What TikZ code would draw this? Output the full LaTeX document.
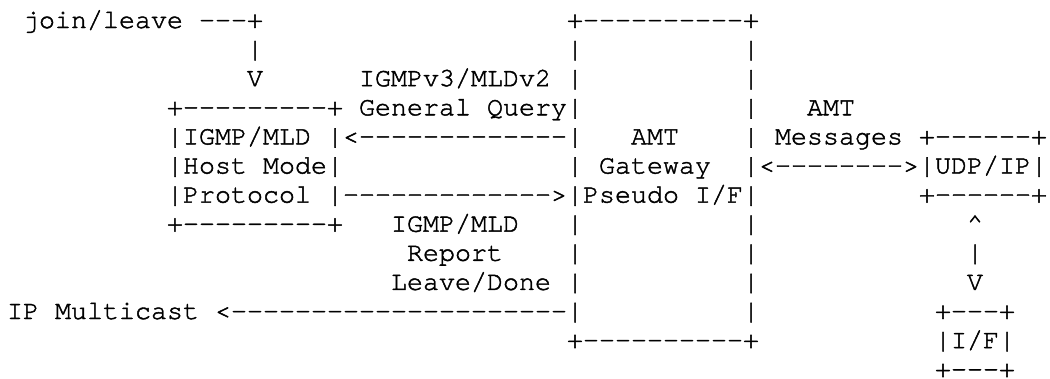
\documentclass[tikz,border=0pt]{standalone}
\usepackage{fontspec}
\newfontfamily\asciifont[FakeBold=1.6]{TeX Gyre Cursor}
\usetikzlibrary{positioning}

% character cell: 16pt wide, rows 29.2pt apart
\tikzset{
  art/.style={inner sep=0pt, outer sep=0pt, anchor=base west, text=black,
              font=\asciifont\fontsize{26.667}{29.2}\selectfont}
}
% \cell{name}{column}{row}{text}
\newcommand\cell[4]{\node[art] (#1) at ({7+16*#2},{28+29.1*(#3-1)}) {#4};}

\begin{document}
\begin{tikzpicture}[x=1pt,y=-1pt]
  \path[use as bounding box, fill=white] (0,0) rectangle (1050,378);

  % row 1
  \cell{join}{1}{1}{join/leave ---+}
  \cell{gwtop}{35}{1}{+----------+}
  % row 2
  \cell{joinbar}{15}{2}{|}
  \cell{gwl2}{35}{2}{|}
  \cell{gwr2}{46}{2}{|}
  % row 3
  \cell{joinarrow}{15}{3}{V}
  \cell{querya}{22}{3}{IGMPv3/MLDv2}
  \cell{gwl3}{35}{3}{|}
  \cell{gwr3}{46}{3}{|}
  % row 4
  \cell{hosttop}{10}{4}{+---------+}
  \cell{queryb}{22}{4}{General Query|}
  \cell{gwr4}{46}{4}{|}
  \cell{msga}{50}{4}{AMT}
  % row 5
  \cell{hostl1}{10}{5}{|IGMP/MLD |<-------------|}
  \cell{gwa}{39}{5}{AMT}
  \cell{gwr5}{46}{5}{|}
  \cell{msgb}{48}{5}{Messages +------+}
  % row 6
  \cell{hostl2}{10}{6}{|Host Mode|}
  \cell{gwl6}{35}{6}{|}
  \cell{gwb}{37}{6}{Gateway}
  \cell{udp}{46}{6}{|<-------->|UDP/IP|}
  % row 7
  \cell{hostl3}{10}{7}{|Protocol |------------->|Pseudo I/F|}
  \cell{udpbot}{57}{7}{+------+}
  % row 8
  \cell{hostbot}{10}{8}{+---------+}
  \cell{repa}{24}{8}{IGMP/MLD}
  \cell{gwl8}{35}{8}{|}
  \cell{gwr8}{46}{8}{|}
  \cell{upa}{60}{8}{\textasciicircum}
  % row 9
  \cell{repb}{25}{9}{Report}
  \cell{gwl9}{35}{9}{|}
  \cell{gwr9}{46}{9}{|}
  \cell{upb}{60}{9}{|}
  % row 10
  \cell{repc}{24}{10}{Leave/Done}
  \cell{gwl10}{35}{10}{|}
  \cell{gwr10}{46}{10}{|}
  \cell{upc}{60}{10}{V}
  % row 11
  \cell{mcast}{0}{11}{IP Multicast <---------------------|}
  \cell{gwr11}{46}{11}{|}
  \cell{iftop}{58}{11}{+---+}
  % row 12
  \cell{gwbot}{35}{12}{+----------+}
  \cell{ifmid}{58}{12}{|I/F|}
  % row 13
  \cell{ifbot}{58}{13}{+---+}
\end{tikzpicture}
\end{document}
